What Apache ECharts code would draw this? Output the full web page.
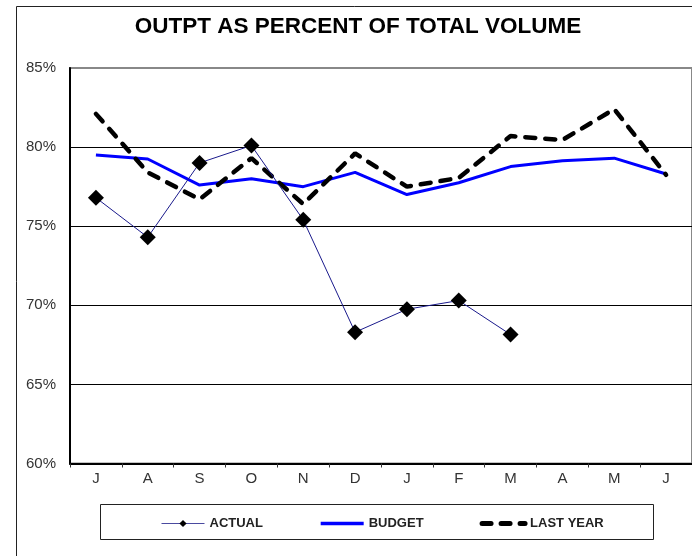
<!DOCTYPE html>
<html>
<head>
<meta charset="utf-8">
<script src="https://cdn.jsdelivr.net/npm/echarts@6/dist/echarts.min.js"></script>
<style>
html,body{margin:0;padding:0;background:#fff;}
#chart{width:692px;height:556px;}
</style>
</head>
<body>
<div id="chart"></div>
<script>
var months = ['J','A','S','O','N','D','J','F','M','A','M','J'];
var actual = [76.8, 74.3, 79.0, 80.1, 75.4, 68.3, 69.75, 70.3, 68.15];
var budget = [79.5, 79.25, 77.6, 78.0, 77.5, 78.4, 77.0, 77.75, 78.77, 79.13, 79.3, 78.3];
var lastYear = [82.1, 78.4, 76.7, 79.3, 76.4, 79.6, 77.5, 78.05, 80.7, 80.45, 82.4, 78.25];
var yTicks = {min: 60, max: 85, interval: 5};

var chart = echarts.init(document.getElementById('chart'), null, {renderer: 'canvas'});
chart.setOption({
  backgroundColor: '#fff',
  animation: false,
  title: {
    text: 'OUTPT AS PERCENT OF TOTAL VOLUME',
    left: 353, textAlign: 'center', top: 10,
    textStyle: {fontFamily: 'Liberation Sans, Arial, sans-serif', fontWeight: 'bold', fontSize: 22.5, color: '#000'}
  },
  graphic: [
    {type: 'rect', z: -1, shape: {x: 16.5, y: 6.5, width: 720, height: 620}, style: {fill: 'none', stroke: '#222', lineWidth: 1}},
    {type: 'rect', z: 0, shape: {x: 100.5, y: 504.5, width: 553, height: 35}, style: {fill: 'none', stroke: '#222', lineWidth: 1}}
  ],
  legend: {
    data: [
      {name: 'ACTUAL', lineStyle: {width: 1, color: '#4a4aa0'}},
      {name: 'BUDGET', itemStyle: {color: 'transparent', borderWidth: 0, opacity: 0}, lineStyle: {width: 3.5, color: '#0000ff'}},
      {name: 'LAST YEAR', itemStyle: {color: 'transparent', borderWidth: 0, opacity: 0}, lineStyle: {width: 5, color: '#000', type: [9, 10], cap: 'round'}}
    ],
    left: 161, top: 517, padding: 0,
    itemWidth: 43, itemHeight: 9, itemGap: 56,
    textStyle: {fontFamily: 'Liberation Sans, Arial, sans-serif', fontWeight: 'bold', fontSize: 13, color: '#222'}
  },
  grid: {left: 70, top: 68, width: 634, height: 395.5, show: true, borderColor: '#888', borderWidth: 2, backgroundColor: 'transparent'},
  xAxis: {
    type: 'category', data: months, boundaryGap: true,
    axisLine: {lineStyle: {color: '#000', width: 2}},
    axisTick: {show: true, length: 4, lineStyle: {color: '#333'}},
    axisLabel: {margin: 8, fontSize: 15, color: '#333', fontFamily: 'Liberation Sans, Arial, sans-serif'},
    splitLine: {show: false}
  },
  yAxis: {
    type: 'value', min: yTicks.min, max: yTicks.max, interval: yTicks.interval,
    axisLine: {show: true, lineStyle: {color: '#000', width: 2}},
    axisTick: {show: false},
    axisLabel: {formatter: '{value}%', margin: 14, fontSize: 15, color: '#333', fontFamily: 'Liberation Sans, Arial, sans-serif'},
    splitLine: {show: true, lineStyle: {color: ['#000', '#000', '#000', '#000', '#000', 'transparent'], width: 1}}
  },
  series: [
    {name: 'BUDGET', type: 'line', data: budget, z: 2, symbol: 'none', showSymbol: false,
     lineStyle: {color: '#0000ff', width: 3}, itemStyle: {color: '#0000ff'}},
    {name: 'LAST YEAR', type: 'line', data: lastYear, z: 3, symbol: 'none', showSymbol: false,
     lineStyle: {color: '#000', width: 4.5, type: [10, 10], cap: 'round'}, itemStyle: {color: '#000'}},
    {name: 'ACTUAL', type: 'line', data: actual, z: 4, symbol: 'diamond', symbolSize: 16,
     lineStyle: {color: '#1a1a8c', width: 1}, itemStyle: {color: '#000'}}
  ]
});
</script>
</body>
</html>
